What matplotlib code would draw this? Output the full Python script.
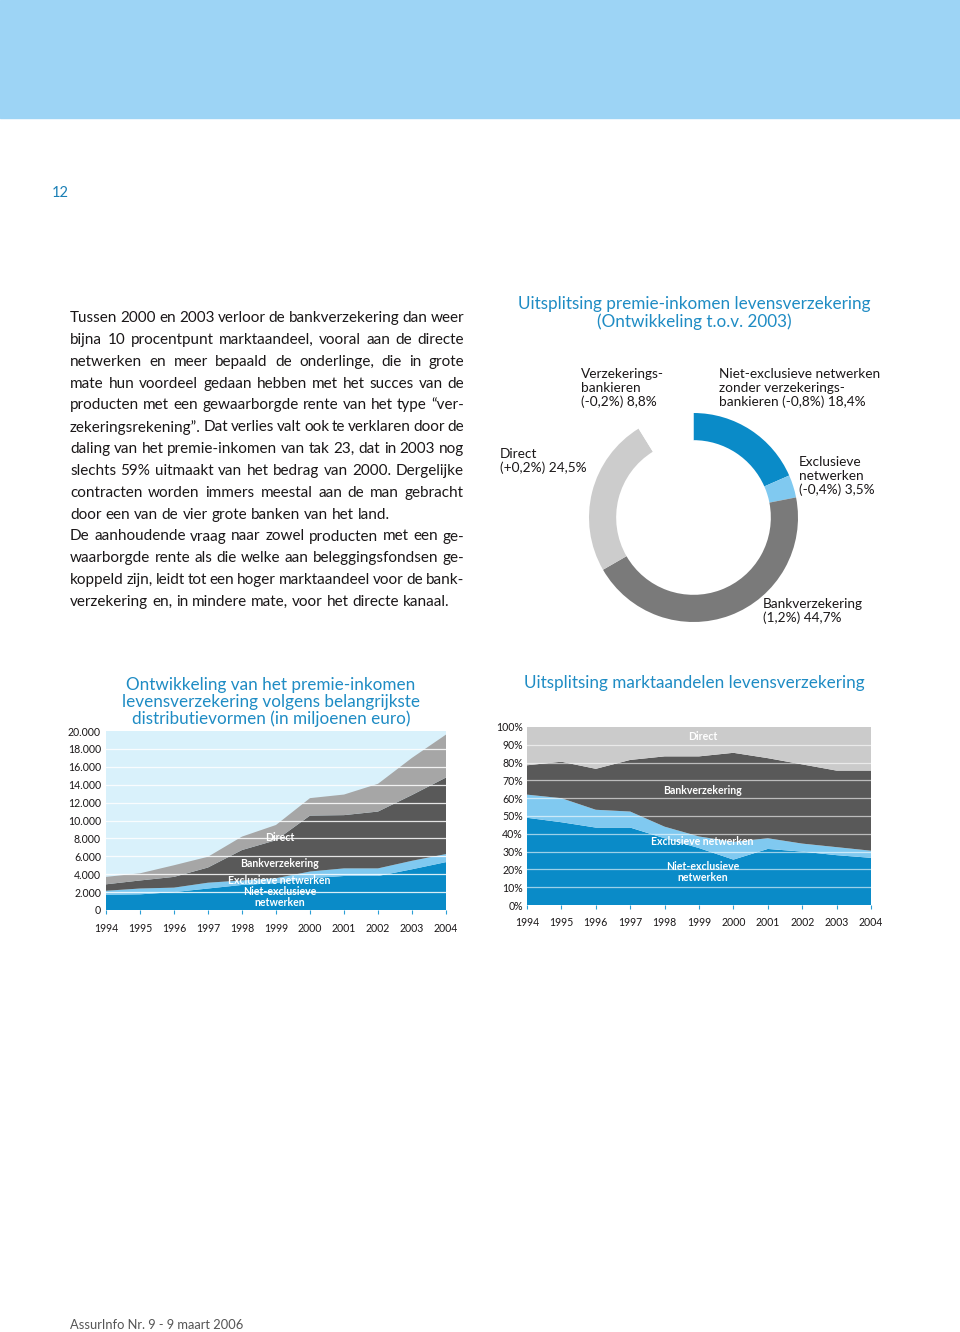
import matplotlib
matplotlib.use("Agg")
import matplotlib.pyplot as plt
from matplotlib.patches import Rectangle

plt.rcParams['font.family'] = ['Lato', 'DejaVu Sans']

W, H = 960, 1332
BLUE = '#0a8bc8'
LIGHT = '#80c9f0'
DARK = '#595959'
TITLE = '#1f8cc4'
INK = '#1a1718'

years = list(range(1994, 2005))

# premie-inkomen per distributievorm (miljoen euro)
niet_excl = [1700, 1750, 2000, 2400, 2800, 3000, 3550, 3800, 3800, 4550, 5350]
excl = [450, 650, 500, 650, 500, 550, 750, 850, 850, 950, 900]
bank = [720, 900, 1200, 1700, 3400, 4250, 6250, 5950, 6350, 7350, 8550]
direct = [830, 800, 1300, 1200, 1500, 1700, 1950, 2300, 3100, 4150, 4800]

# marktaandelen (%)
sh_niet_excl = [49, 46.5, 43.5, 43.5, 37.5, 32, 25.5, 31.5, 30, 28, 26.5]
sh_excl = [13, 13.5, 10, 9, 6.5, 6.5, 10, 6, 4.5, 4.5, 4]
sh_bank = [16.5, 20.5, 23, 29, 39.5, 45, 50, 45, 44.5, 43, 45]
sh_direct = [21.5, 19.5, 23.5, 18.5, 16.5, 16.5, 14.5, 17.5, 21, 24.5, 24.5]

# donut 2004
pie_labels = ['Niet-exclusieve netwerken', 'Exclusieve netwerken', 'Bankverzekering',
              'Direct', 'Verzekeringsbankieren']
pie_values = [18.4, 3.5, 44.7, 24.5, 8.8]
pie_colors = [BLUE, LIGHT, '#7a7a7a', '#cccccc', 'white']

fig = plt.figure(figsize=(9.6, 13.32), dpi=100)


def fx(x):
    return x / W


def fy(y):
    return 1 - y / H


def px_axes(x0, y0, x1, y1):
    return fig.add_axes([x0 / W, 1 - y1 / H, (x1 - x0) / W, (y1 - y0) / H])


# top band
fig.patches.append(Rectangle((0, fy(118)), 1, 118 / H, transform=fig.transFigure,
                             color='#9dd4f5', zorder=0))
fig.text(fx(52), fy(193), '12', fontsize=10.5, color='#1a7fb5', va='center')
fig.text(fx(70), fy(1325), 'AssurInfo Nr. 9 - 9 maart 2006', fontsize=9.3,
         color='#555555', va='center')

# body text, justified
body = [
    ("Tussen 2000 en 2003 verloor de bankverzekering dan weer", True),
    ("bijna 10 procentpunt marktaandeel, vooral aan de directe", True),
    ("netwerken en meer bepaald de onderlinge, die in grote", True),
    ("mate hun voordeel gedaan hebben met het succes van de", True),
    ("producten met een gewaarborgde rente van het type \u201cver-", True),
    ("zekeringsrekening\u201d. Dat verlies valt ook te verklaren door de", True),
    ("daling van het premie-inkomen van tak 23, dat in 2003 nog", True),
    ("slechts 59% uitmaakt van het bedrag van 2000. Dergelijke", True),
    ("contracten worden immers meestal aan de man gebracht", True),
    ("door een van de vier grote banken van het land.", False),
    ("De aanhoudende vraag naar zowel producten met een ge-", True),
    ("waarborgde rente als die welke aan beleggingsfondsen ge-", True),
    ("koppeld zijn, leidt tot een hoger marktaandeel voor de bank-", True),
    ("verzekering en, in mindere mate, voor het directe kanaal.", False),
]
renderer = fig.canvas.get_renderer()
body_kw = dict(fontsize=11.0, color=INK, va='center', ha='left')


def text_width(s):
    t = fig.text(0, 0, s, **body_kw)
    w = t.get_window_extent(renderer).width
    t.remove()
    return w


space = text_width('a b') - text_width('ab')
x_left, x_right = 70, 464
for i, (line, justify) in enumerate(body):
    y = 318 + i * 21.85
    words = line.split()
    widths = [text_width(w) for w in words]
    if justify and len(words) > 1:
        gap = (x_right - x_left - sum(widths)) / (len(words) - 1)
    else:
        gap = space
    x = x_left
    for w, wd in zip(words, widths):
        fig.text(fx(x), fy(y), w, **body_kw)
        x += wd + gap

# donut
fig.text(fx(694), fy(313), 'Uitsplitsing premie-inkomen levensverzekering\n(Ontwikkeling t.o.v. 2003)',
         fontsize=12.3, color=TITLE, ha='center', va='center', linespacing=1.05)
axd = px_axes(589, 413, 798, 622)
axd.pie(pie_values, colors=pie_colors, startangle=90, counterclock=False, radius=1,
        wedgeprops=dict(width=0.26, linewidth=0))
axd.set_xlim(-1, 1)
axd.set_ylim(-1, 1)
axd.set_aspect('equal')
axd.axis('off')

lab_kw = dict(fontsize=9.8, color=INK, ha='left', va='center', linespacing=1.12)
fig.text(fx(581), fy(388), 'Verzekerings-\nbankieren\n(-0,2%) 8,8%', **lab_kw)
fig.text(fx(719), fy(388), 'Niet-exclusieve netwerken\nzonder verzekerings-\nbankieren (-0,8%) 18,4%', **lab_kw)
fig.text(fx(500), fy(461), 'Direct\n(+0,2%) 24,5%', **lab_kw)
fig.text(fx(799), fy(476), 'Exclusieve\nnetwerken\n(-0,4%) 3,5%', **lab_kw)
fig.text(fx(763), fy(611), 'Bankverzekering\n(1,2%) 44,7%', **lab_kw)

# left area chart
fig.text(fx(271), fy(702), 'Ontwikkeling van het premie-inkomen\nlevensverzekering volgens belangrijkste\n'
         'distributievormen (in miljoenen euro)', fontsize=12.3, color=TITLE,
         ha='center', va='center', linespacing=1.05)
ax1 = px_axes(106, 731, 446, 910)
ax1.set_facecolor('#d9f1fb')
ax1.stackplot(years, niet_excl, excl, bank, direct,
              colors=[BLUE, LIGHT, DARK, '#a6a6a6'], linewidth=0)
ax1.set_xlim(1994, 2004)
ax1.set_ylim(0, 20000)
yt = list(range(0, 20001, 2000))
ax1.set_yticks(yt)
ax1.set_yticklabels([f'{v:,}'.replace(',', '.') for v in yt])
for v in yt[1:-1]:
    ax1.axhline(v, color='white', lw=0.9, alpha=0.85, zorder=3)
ax1.set_xticks(years)
ax1.tick_params(axis='x', direction='out', length=3, color='#2a9fd6', pad=6.5, labelsize=7.6, labelcolor=INK)
ax1.tick_params(axis='y', length=0, pad=3.6, labelsize=7.6, labelcolor=INK)
for s in ax1.spines.values():
    s.set_visible(False)
in_kw = dict(fontsize=7.6, color='white', ha='center', va='center', weight='bold', zorder=5)
ax1.text(1999.1, 8150, 'Direct', **in_kw)
ax1.text(1999.1, 5150, 'Bankverzekering', **in_kw)
ax1.text(1999.1, 3300, 'Exclusieve netwerken', **in_kw)
ax1.text(1999.1, 1450, 'Niet-exclusieve\nnetwerken', linespacing=0.95, **in_kw)

# right stacked share chart
fig.text(fx(694), fy(683), 'Uitsplitsing marktaandelen levensverzekering', fontsize=12.3,
         color=TITLE, ha='center', va='center')
ax2 = px_axes(527, 727, 871, 905)
ax2.stackplot(years, sh_niet_excl, sh_excl, sh_bank, sh_direct,
              colors=[BLUE, LIGHT, DARK, '#cbcbcb'], linewidth=0)
ax2.set_xlim(1994, 2004)
ax2.set_ylim(0, 100)
pt = list(range(0, 101, 10))
ax2.set_yticks(pt)
ax2.set_yticklabels([f'{v}%' for v in pt])
for v in pt[1:-1]:
    ax2.axhline(v, color='white', lw=0.9, alpha=0.6, zorder=3)
ax2.set_xticks(years)
ax2.tick_params(axis='x', direction='out', length=3, color='#2a9fd6', pad=5.8, labelsize=7.6, labelcolor=INK)
ax2.tick_params(axis='y', length=0, pad=2.9, labelsize=7.6, labelcolor=INK)
for s in ax2.spines.values():
    s.set_visible(False)
ax2.text(1999.1, 94.5, 'Direct', **in_kw)
ax2.text(1999.1, 64.5, 'Bankverzekering', **in_kw)
ax2.text(1999.1, 35.5, 'Exclusieve netwerken', **in_kw)
ax2.text(1999.1, 18.5, 'Niet-exclusieve\nnetwerken', linespacing=0.95, **in_kw)

fig.savefig('out.png', dpi=100)
